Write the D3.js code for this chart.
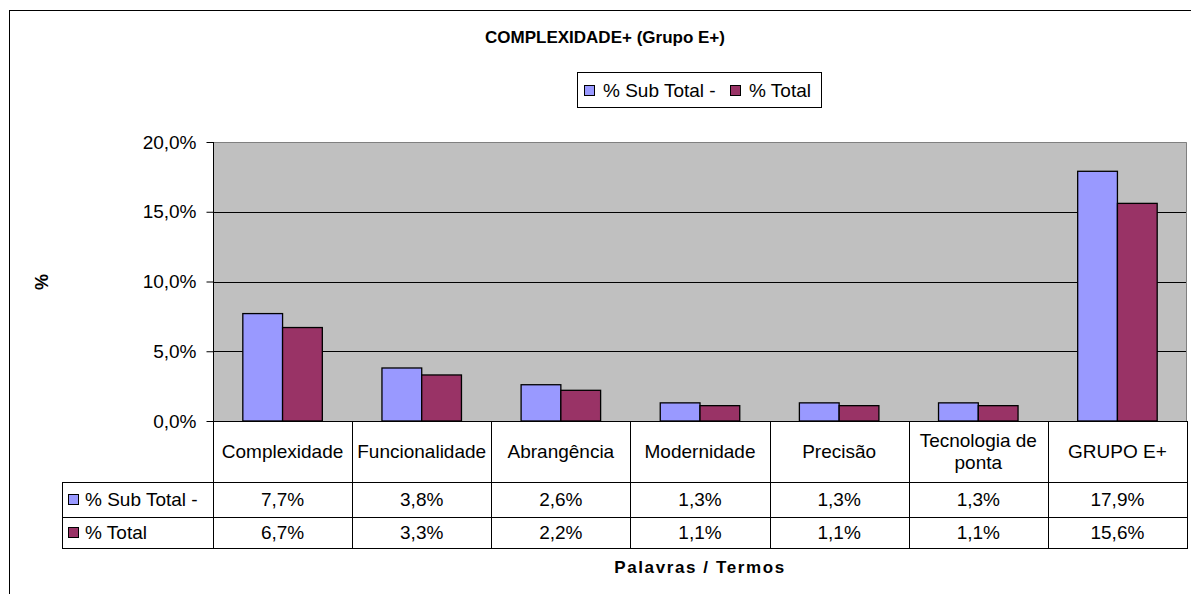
<!DOCTYPE html>
<html>
<head>
<meta charset="utf-8">
<script src="https://cdn.jsdelivr.net/npm/d3@7"></script>
<style>
  html, body { margin: 0; padding: 0; background: #fff; }
  svg { display: block; font-family: "Liberation Sans", Arial, sans-serif; }
</style>
</head>
<body>
<div id="chart"></div>
<script>
// valores
const categories = ['Complexidade', 'Funcionalidade', 'Abrangência', 'Modernidade', 'Precisão', 'Tecnologia de|ponta', 'GRUPO E+'];
const seriesNames = ['% Sub Total -', '% Total'];
const subTotal = [7.7, 3.8, 2.6, 1.3, 1.3, 1.3, 17.9];
const total = [6.7, 3.3, 2.2, 1.1, 1.1, 1.1, 15.6];
const yTicks = [0, 5, 10, 15, 20];
const colors = ['#9999FF', '#993366'];

const width = 1191;
const height = 594;
const plot = { left: 213, right: 1187, top: 142, bottom: 421 };
const table = { legendLeft: 62, headerBottom: 482, row1Bottom: 517, row2Bottom: 548 };
const fontSize = '19px';

const locale = d3.formatLocale({ decimal: ',', thousands: '.', grouping: [3], currency: ['R$', ''] });
const fmt = (v) => locale.format('.1f')(v) + '%';

const svg = d3.select('#chart')
    .append('svg')
    .attr('width', width)
    .attr('height', height);

// moldura externa
svg.append('rect')
    .attr('x', 9.5).attr('y', 10.5)
    .attr('width', 1300).attr('height', 700)
    .attr('fill', 'none').attr('stroke', '#000');

const x0 = d3.scaleBand()
    .domain(categories)
    .range([plot.left, plot.right]);

const x1 = d3.scaleBand()
    .domain(seriesNames)
    .range([0, x0.bandwidth()])
    .paddingOuter(0.75);

const y = d3.scaleLinear()
    .domain([0, 20])
    .range([plot.bottom, plot.top]);

// área do gráfico
svg.append('rect')
    .attr('x', plot.left).attr('y', plot.top)
    .attr('width', plot.right - plot.left).attr('height', plot.bottom - plot.top)
    .attr('fill', '#C0C0C0');

svg.append('path')
    .attr('d', `M${plot.left},${plot.top + 0.5}H${plot.right - 0.5}V${plot.bottom}`)
    .attr('fill', 'none').attr('stroke', '#808080').attr('stroke-width', 1);

// linhas de grade
svg.append('g')
    .selectAll('line')
    .data(yTicks.filter((t) => t > 0 && t < 20))
    .join('line')
    .attr('x1', plot.left).attr('x2', plot.right - 1)
    .attr('y1', (d) => Math.round(y(d)) + 0.5)
    .attr('y2', (d) => Math.round(y(d)) + 0.5)
    .attr('stroke', '#000');

// barras
const rows = categories.map((c, i) => ({ cat: c, values: [subTotal[i], total[i]] }));

const groups = svg.append('g')
    .selectAll('g')
    .data(rows)
    .join('g')
    .attr('transform', (d) => `translate(${x0(d.cat)},0)`);

groups.selectAll('rect')
    .data((d) => d.values.map((v, j) => ({ key: seriesNames[j], value: v, idx: j })))
    .join('rect')
    .attr('x', (d) => x1(d.key))
    .attr('y', (d) => y(d.value))
    .attr('width', x1.bandwidth())
    .attr('height', (d) => y(0) - y(d.value))
    .attr('fill', (d) => colors[d.idx])
    .attr('stroke', '#000')
    .attr('stroke-width', 1.3);

// eixo Y
const yAxis = svg.append('g')
    .attr('transform', `translate(${plot.left + 0.5},0)`)
    .call(d3.axisLeft(y).tickValues(yTicks).tickFormat(fmt).tickSize(7).tickPadding(10));

yAxis.select('.domain').attr('stroke', '#000').attr('d', `M0,${plot.top}V${plot.bottom}`);
yAxis.selectAll('.tick line').attr('stroke', '#000');
yAxis.selectAll('text')
    .attr('font-size', fontSize)
    .attr('fill', '#000')
    .attr('font-family', '"Liberation Sans", Arial, sans-serif');

// eixo X (linha base)
svg.append('line')
    .attr('x1', plot.left).attr('x2', plot.right)
    .attr('y1', plot.bottom + 0.5).attr('y2', plot.bottom + 0.5)
    .attr('stroke', '#000');

// tabela de dados
const tbl = svg.append('g').attr('stroke', '#000').attr('fill', 'none');

const bounds = categories.map((c) => x0(c)).concat([plot.right]);

tbl.selectAll('line.v')
    .data(bounds)
    .join('line')
    .attr('class', 'v')
    .attr('x1', (d) => Math.round(d) + 0.5).attr('x2', (d) => Math.round(d) + 0.5)
    .attr('y1', plot.bottom).attr('y2', table.row2Bottom);

tbl.append('line')
    .attr('x1', table.legendLeft + 0.5).attr('x2', table.legendLeft + 0.5)
    .attr('y1', table.headerBottom).attr('y2', table.row2Bottom);

tbl.selectAll('line.h')
    .data([table.headerBottom, table.row1Bottom, table.row2Bottom])
    .join('line')
    .attr('class', 'h')
    .attr('x1', table.legendLeft).attr('x2', plot.right + 1)
    .attr('y1', (d) => d + 0.5).attr('y2', (d) => d + 0.5);

// cabeçalho das categorias
const headers = svg.append('g')
    .attr('font-size', fontSize)
    .attr('fill', '#000')
    .attr('text-anchor', 'middle');

categories.forEach((c) => {
    const parts = c.split('|');
    const cx = x0(c) + x0.bandwidth() / 2;
    const midY = (plot.bottom + table.headerBottom) / 2;
    const lineH = 22;
    parts.forEach((p, k) => {
        headers.append('text')
            .attr('x', cx)
            .attr('y', midY + (k - (parts.length - 1) / 2) * lineH)
            .attr('dy', '0.35em')
            .text(p);
    });
});

// linhas de valores
const seriesRows = [subTotal, total];
const rowMids = [
    (table.headerBottom + table.row1Bottom) / 2,
    (table.row1Bottom + table.row2Bottom) / 2
];

seriesRows.forEach((vals, r) => {
    const g = svg.append('g').attr('font-size', fontSize).attr('fill', '#000');
    g.selectAll('text')
        .data(vals)
        .join('text')
        .attr('x', (d, i) => x0(categories[i]) + x0.bandwidth() / 2)
        .attr('y', rowMids[r])
        .attr('dy', '0.35em')
        .attr('text-anchor', 'middle')
        .text((d) => fmt(d));

    g.append('rect')
        .attr('x', 68.5).attr('y', rowMids[r] - 5)
        .attr('width', 10).attr('height', 10)
        .attr('fill', colors[r]).attr('stroke', '#000');

    g.append('text')
        .attr('x', 85)
        .attr('y', rowMids[r])
        .attr('dy', '0.35em')
        .text(seriesNames[r]);
});

// título
svg.append('text')
    .attr('x', 605).attr('y', 37)
    .attr('dy', '0.35em')
    .attr('text-anchor', 'middle')
    .attr('font-size', '17px')
    .attr('font-weight', 'bold')
    .text('COMPLEXIDADE+ (Grupo E+)');

// legenda
const legend = svg.append('g').attr('transform', 'translate(577,72)');
legend.append('rect')
    .attr('x', 0.5).attr('y', 0.5)
    .attr('width', 244).attr('height', 35)
    .attr('fill', '#fff').attr('stroke', '#000');

const legendX = [7, 153];
seriesNames.forEach((s, i) => {
    legend.append('rect')
        .attr('x', legendX[i] + 0.5).attr('y', 13.5)
        .attr('width', 10).attr('height', 10)
        .attr('fill', colors[i]).attr('stroke', '#000');
    legend.append('text')
        .attr('x', legendX[i] + 19).attr('y', 18)
        .attr('dy', '0.35em')
        .attr('font-size', fontSize)
        .text(s);
});

// títulos dos eixos
svg.append('text')
    .attr('transform', 'translate(42,282) rotate(-90)')
    .attr('dy', '0.35em')
    .attr('text-anchor', 'middle')
    .attr('font-size', '18px')
    .attr('font-weight', 'bold')
    .text('%');

svg.append('text')
    .attr('x', 700).attr('y', 567)
    .attr('dy', '0.35em')
    .attr('text-anchor', 'middle')
    .attr('font-size', '17px')
    .attr('font-weight', 'bold')
    .attr('letter-spacing', '1.6px')
    .text('Palavras / Termos');
</script>
</body>
</html>
